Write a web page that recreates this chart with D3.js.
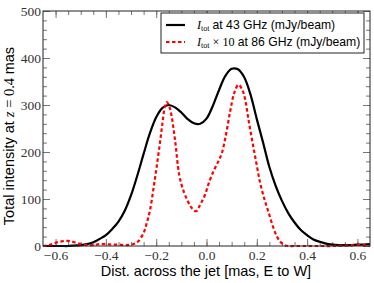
<!DOCTYPE html>
<html>
<head>
<meta charset="utf-8">
<script src="https://cdn.jsdelivr.net/npm/d3@7"></script>
<style>
  body { margin: 0; background: #fff; }
  svg { display: block; }
</style>
</head>
<body>
<script>
// 43 GHz total intensity across the jet (mJy/beam)
var xBlack = [-0.65, -0.625, -0.6, -0.575, -0.55, -0.525, -0.5, -0.475, -0.45, -0.425, -0.4, -0.375, -0.35, -0.325, -0.3, -0.275, -0.25, -0.225, -0.2, -0.175, -0.15, -0.125, -0.1, -0.075, -0.05, -0.025, 0, 0.025, 0.05, 0.075, 0.1, 0.125, 0.15, 0.175, 0.2, 0.225, 0.25, 0.275, 0.3, 0.325, 0.35, 0.375, 0.4, 0.425, 0.45, 0.475, 0.5, 0.525, 0.55, 0.575, 0.6, 0.625, 0.65];
var yBlack = [0, 0, 0, 0, 0, 1, 2, 4, 8, 15, 23, 36, 52, 75, 108, 150, 196, 240, 274, 294, 300, 295, 284, 270, 261, 260, 271, 298, 332, 362, 377, 376, 359, 322, 270, 220, 168, 128, 96, 70, 50, 34, 23, 14, 9, 5, 3, 2, 2, 2, 3, 3, 4];

// 86 GHz total intensity x 10
var xRed = [-0.65, -0.625, -0.6, -0.575, -0.55, -0.525, -0.5, -0.475, -0.45, -0.425, -0.4, -0.375, -0.35, -0.325, -0.3, -0.275, -0.25, -0.238, -0.225, -0.21, -0.198, -0.185, -0.175, -0.165, -0.158, -0.15, -0.14, -0.125, -0.108, -0.09, -0.075, -0.06, -0.042, -0.025, -0.006, 0.01, 0.027, 0.045, 0.06, 0.075, 0.094, 0.11, 0.127, 0.14, 0.153, 0.165, 0.18, 0.197, 0.213, 0.23, 0.246, 0.265, 0.28, 0.295, 0.31, 0.325, 0.35, 0.4, 0.45, 0.5, 0.55, 0.575, 0.6, 0.625, 0.65];
var yRed = [0, 2, 7, 10, 11, 8, 4, 2, 2, 4, 4, 3, 3, 2, 3, 8, 28, 48, 75, 125, 169, 220, 262, 298, 306, 300, 280, 225, 150, 115, 96, 82, 74, 88, 109, 135, 158, 178, 196, 230, 286, 325, 343, 335, 314, 275, 229, 180, 135, 100, 73, 40, 20, 8, 2, 0, 0, 0, 0, 0, 1, 2, 3, 2, 1];

var xMajor = [-0.6, -0.4, -0.2, 0.0, 0.2, 0.4, 0.6];
var yMajor = [0, 100, 200, 300, 400, 500];

var W = 374, H = 283;
var mLeft = 43, mRight = 370, mTop = 11, mBottom = 246;

var svg = d3.select("body").append("svg")
    .attr("width", W)
    .attr("height", H);

var x = d3.scaleLinear().domain([-0.65, 0.65]).range([mLeft, mRight]);
var y = d3.scaleLinear().domain([0, 500]).range([mBottom, mTop]);

var xMinor = d3.range(-12, 13).map(function(i) { return i * 0.05; });
var yMinor = d3.range(0, 26).map(function(i) { return i * 20; });

function tickStyle(g) {
  g.select(".domain").remove();
  g.selectAll(".tick line").attr("stroke", "#777").attr("stroke-width", 1);
}

// minor ticks, all four sides, pointing inward
svg.append("g").attr("transform", "translate(0," + mBottom + ")")
    .call(d3.axisBottom(x).tickValues(xMinor).tickSize(-4).tickFormat(""))
    .call(tickStyle);
svg.append("g").attr("transform", "translate(0," + mTop + ")")
    .call(d3.axisTop(x).tickValues(xMinor).tickSize(-4).tickFormat(""))
    .call(tickStyle);
svg.append("g").attr("transform", "translate(" + mLeft + ",0)")
    .call(d3.axisLeft(y).tickValues(yMinor).tickSize(-4).tickFormat(""))
    .call(tickStyle);
svg.append("g").attr("transform", "translate(" + mRight + ",0)")
    .call(d3.axisRight(y).tickValues(yMinor).tickSize(-4).tickFormat(""))
    .call(tickStyle);

// major ticks
var xAxis = svg.append("g").attr("transform", "translate(0," + mBottom + ")")
    .call(d3.axisBottom(x).tickValues(xMajor).tickSize(-7).tickFormat(d3.format(".1f")))
    .call(tickStyle);
xAxis.selectAll("text")
    .attr("y", 14).attr("dy", 0)
    .attr("fill", "#333")
    .style("font-family", "'Liberation Serif', serif")
    .style("font-size", "13.5px");

svg.append("g").attr("transform", "translate(0," + mTop + ")")
    .call(d3.axisTop(x).tickValues(xMajor).tickSize(-7).tickFormat(""))
    .call(tickStyle);

var yAxis = svg.append("g").attr("transform", "translate(" + mLeft + ",0)")
    .call(d3.axisLeft(y).tickValues(yMajor).tickSize(-7).tickFormat(d3.format("d")))
    .call(tickStyle);
yAxis.selectAll("text")
    .attr("x", -2).attr("dy", "0.32em")
    .attr("fill", "#333")
    .style("font-family", "'Liberation Serif', serif")
    .style("font-size", "13.5px");

svg.append("g").attr("transform", "translate(" + mRight + ",0)")
    .call(d3.axisRight(y).tickValues(yMajor).tickSize(-7).tickFormat(""))
    .call(tickStyle);

// curves
var blackData = xBlack.map(function(d, i) { return [d, yBlack[i]]; });
var redData = xRed.map(function(d, i) { return [d, yRed[i]]; });

var line = d3.line()
    .x(function(d) { return x(d[0]); })
    .y(function(d) { return y(d[1]); })
    .curve(d3.curveCatmullRom.alpha(0.5));

svg.append("path")
    .datum(blackData)
    .attr("d", line)
    .attr("fill", "none")
    .attr("stroke", "black")
    .attr("stroke-width", 2.2);

svg.append("path")
    .datum(redData)
    .attr("d", line)
    .attr("fill", "none")
    .attr("stroke", "red")
    .attr("stroke-width", 2.2)
    .attr("stroke-dasharray", "3.5,2.5");

// frame
svg.append("rect")
    .attr("x", mLeft).attr("y", mTop)
    .attr("width", mRight - mLeft).attr("height", mBottom - mTop)
    .attr("fill", "none")
    .attr("stroke", "#222")
    .attr("stroke-width", 1);

// axis labels
svg.append("text")
    .attr("x", 206)
    .attr("y", 276)
    .attr("text-anchor", "middle")
    .style("font-family", "'Liberation Sans', Arial, sans-serif")
    .style("font-size", "14.5px")
    .text("Dist. across the jet [mas, E to W]");

var ylab = svg.append("text")
    .attr("transform", "translate(14,136) rotate(-90)")
    .attr("text-anchor", "middle")
    .style("font-family", "'Liberation Sans', Arial, sans-serif")
    .style("font-size", "14.5px");
ylab.append("tspan").text("Total intensity at ");
ylab.append("tspan").style("font-family", "'Liberation Serif', serif").style("font-style", "italic").text("z");
ylab.append("tspan").style("font-family", "'Liberation Serif', serif").text(" = 0.4 ");
ylab.append("tspan").text("mas");

// legend
var leg = svg.append("g");
leg.append("rect")
    .attr("x", 161).attr("y", 13)
    .attr("width", 203).attr("height", 40)
    .attr("fill", "white")
    .attr("stroke", "#222")
    .attr("stroke-width", 1);

leg.append("line")
    .attr("x1", 166).attr("x2", 185).attr("y1", 25).attr("y2", 25)
    .attr("stroke", "black").attr("stroke-width", 2.2);
leg.append("line")
    .attr("x1", 166).attr("x2", 185).attr("y1", 42).attr("y2", 42)
    .attr("stroke", "red").attr("stroke-width", 2.2)
    .attr("stroke-dasharray", "3.5,2.5");

function legendText(yy, mid, rest) {
  var t = leg.append("text")
      .attr("x", 197).attr("y", yy)
      .style("font-family", "'Liberation Sans', Arial, sans-serif")
      .style("font-size", "12.2px");
  t.append("tspan").style("font-family", "'Liberation Serif', serif").style("font-style", "italic").text("I");
  t.append("tspan").style("font-family", "'Liberation Serif', serif").style("font-size", "8px").attr("dy", 2).text("tot");
  t.append("tspan").attr("dy", -2).style("font-family", "'Liberation Serif', serif").text(mid);
  t.append("tspan").text(rest);
}
legendText(29, " ", "at 43 GHz (mJy/beam)");
legendText(46, " \u00d7 10 ", "at 86 GHz (mJy/beam)");
</script>
</body>
</html>
